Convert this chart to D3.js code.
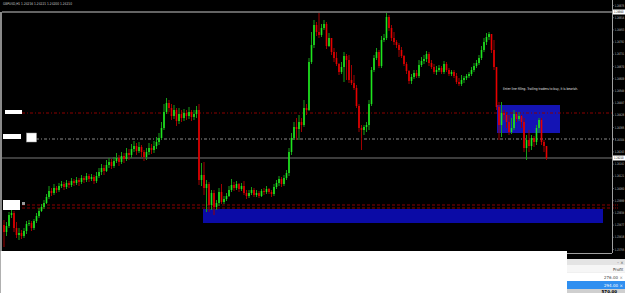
<!DOCTYPE html>
<html>
<head>
<meta charset="utf-8">
<script src="https://d3js.org/d3.v7.min.js"></script>
<style>
  body { margin: 0; background: #000; overflow: hidden; }
  text { font-family: "DejaVu Sans", sans-serif; }
  .tick text { fill: #c8c8c8; font-size: 3.4px; }
  .tick line { stroke: #9a9a9a; }
  .domain { display: none; }
</style>
</head>
<body>
<svg width="625" height="293"></svg>
<script>
// GBPUSD H1 candles, open of each bar = close of the previous one
const firstOpen = 1.23875;
const closes = [
  1.23840,1.23870,1.23925,1.23935,1.23860,1.23825,1.23835,1.23820,1.23845,1.23880,
  1.23885,1.23860,1.23895,1.23920,1.23945,1.23965,1.23985,1.24015,1.24045,1.24035,
  1.24060,1.24050,1.24070,1.24080,1.24065,1.24085,1.24075,1.24095,1.24085,1.24100,
  1.24090,1.24110,1.24100,1.24120,1.24105,1.24115,1.24095,1.24120,1.24140,1.24160,
  1.24145,1.24175,1.24190,1.24170,1.24195,1.24210,1.24190,1.24220,1.24205,1.24235,
  1.24225,1.24255,1.24270,1.24245,1.24265,1.24240,1.24215,1.24240,1.24260,1.24250,
  1.24270,1.24290,1.24310,1.24360,1.24440,1.24485,1.24460,1.24420,1.24450,1.24395,
  1.24430,1.24410,1.24435,1.24420,1.24440,1.24415,1.24430,1.24450,1.24100,1.24125,
  1.24060,1.24080,1.23975,1.24035,1.23965,1.23985,1.24040,1.23990,1.24005,1.24020,
  1.24050,1.24075,1.24060,1.24080,1.24055,1.24070,1.24035,1.24020,1.24035,1.24050,
  1.24025,1.24035,1.24020,1.24045,1.24040,1.24055,1.24040,1.24030,1.24065,1.24085,
  1.24105,1.24080,1.24110,1.24135,1.24240,1.24310,1.24365,1.24355,1.24390,1.24375,
  1.24460,1.24450,1.24690,1.24775,1.24875,1.24840,1.24825,1.24860,1.24880,1.24770,
  1.24810,1.24740,1.24710,1.24680,1.24640,1.24665,1.24720,1.24700,1.24600,1.24585,
  1.24560,1.24470,1.24360,1.24350,1.24365,1.24375,1.24480,1.24650,1.24710,1.24740,
  1.24670,1.24800,1.24810,1.24915,1.24860,1.24810,1.24790,1.24775,1.24750,1.24720,
  1.24680,1.24645,1.24595,1.24615,1.24635,1.24620,1.24675,1.24695,1.24705,1.24730,
  1.24685,1.24665,1.24640,1.24650,1.24660,1.24640,1.24680,1.24650,1.24630,1.24640,
  1.24620,1.24590,1.24580,1.24600,1.24610,1.24620,1.24630,1.24650,1.24670,1.24685,
  1.24710,1.24750,1.24790,1.24815,1.24830,1.24750,1.24665,1.24465,1.24375,1.24435,
  1.24425,1.24390,1.24340,1.24360,1.24430,1.24405,1.24420,1.24390,1.24260,1.24300,
  1.24270,1.24310,1.24290,1.24360,1.24400,1.24290,1.24270,1.24210
];
const highs = [
  1.23900,1.23890,1.23940,1.23960,1.23945,1.23890,1.23860,1.23850,1.23860,1.23895,
  1.23900,1.23895,1.23905,1.23935,1.23960,1.23980,1.24000,1.24030,1.24070,1.24060,
  1.24080,1.24070,1.24085,1.24095,1.24090,1.24100,1.24095,1.24110,1.24105,1.24115,
  1.24110,1.24125,1.24120,1.24135,1.24130,1.24130,1.24125,1.24140,1.24160,1.24180,
  1.24175,1.24200,1.24210,1.24205,1.24215,1.24235,1.24225,1.24240,1.24235,1.24260,
  1.24255,1.24280,1.24295,1.24285,1.24290,1.24275,1.24250,1.24260,1.24285,1.24280,
  1.24295,1.24315,1.24335,1.24390,1.24480,1.24510,1.24500,1.24480,1.24475,1.24460,
  1.24460,1.24450,1.24455,1.24450,1.24465,1.24450,1.24450,1.24470,1.24480,1.24185,
  1.24190,1.24100,1.24090,1.24050,1.24050,1.24000,1.24060,1.24080,1.24020,1.24035,
  1.24070,1.24105,1.24090,1.24095,1.24085,1.24085,1.24095,1.24050,1.24050,1.24065,
  1.24060,1.24050,1.24045,1.24055,1.24060,1.24070,1.24060,1.24050,1.24080,1.24100,
  1.24120,1.24115,1.24125,1.24150,1.24260,1.24335,1.24390,1.24410,1.24425,1.24410,
  1.24500,1.24480,1.24710,1.24840,1.24900,1.24890,1.24935,1.24880,1.24900,1.24890,
  1.24835,1.24800,1.24760,1.24740,1.24685,1.24690,1.24740,1.24730,1.24725,1.24675,
  1.24625,1.24575,1.24480,1.24375,1.24375,1.24390,1.24500,1.24665,1.24725,1.24760,
  1.24750,1.24820,1.24830,1.24935,1.24925,1.24875,1.24840,1.24800,1.24785,1.24765,
  1.24725,1.24690,1.24650,1.24630,1.24650,1.24650,1.24700,1.24715,1.24725,1.24745,
  1.24740,1.24700,1.24680,1.24670,1.24675,1.24670,1.24695,1.24690,1.24660,1.24650,
  1.24650,1.24635,1.24610,1.24625,1.24620,1.24630,1.24640,1.24665,1.24685,1.24700,
  1.24725,1.24770,1.24810,1.24835,1.24840,1.24825,1.24800,1.24660,1.24490,1.24490,
  1.24450,1.24440,1.24425,1.24410,1.24450,1.24440,1.24440,1.24425,1.24410,1.24325,
  1.24350,1.24325,1.24320,1.24375,1.24410,1.24410,1.24300,1.24260
];
const lows = [
  1.23765,1.23820,1.23860,1.23910,1.23840,1.23810,1.23800,1.23805,1.23810,1.23830,
  1.23870,1.23845,1.23850,1.23885,1.23910,1.23940,1.23955,1.23980,1.24005,1.24020,
  1.24025,1.24035,1.24040,1.24060,1.24050,1.24055,1.24060,1.24065,1.24070,1.24075,
  1.24070,1.24080,1.24085,1.24090,1.24090,1.24095,1.24080,1.24085,1.24110,1.24125,
  1.24125,1.24140,1.24160,1.24155,1.24160,1.24185,1.24170,1.24180,1.24185,1.24195,
  1.24200,1.24210,1.24240,1.24225,1.24235,1.24215,1.24195,1.24200,1.24225,1.24230,
  1.24235,1.24255,1.24275,1.24300,1.24350,1.24430,1.24440,1.24400,1.24405,1.24370,
  1.24380,1.24390,1.24395,1.24400,1.24405,1.24395,1.24400,1.24410,1.24075,1.24070,
  1.24025,1.23940,1.23940,1.23950,1.23925,1.23950,1.23970,1.23980,1.23980,1.23995,
  1.24015,1.24040,1.24045,1.24050,1.24040,1.24045,1.24025,1.24005,1.24010,1.24025,
  1.24015,1.24015,1.24010,1.24015,1.24025,1.24030,1.24030,1.24015,1.24020,1.24055,
  1.24070,1.24065,1.24070,1.24100,1.24120,1.24225,1.24300,1.24300,1.24300,1.24340,
  1.24365,1.24425,1.24445,1.24680,1.24760,1.24820,1.24810,1.24815,1.24850,1.24755,
  1.24765,1.24725,1.24690,1.24670,1.24625,1.24630,1.24590,1.24600,1.24585,1.24575,
  1.24550,1.24460,1.24340,1.24250,1.24325,1.24340,1.24350,1.24470,1.24640,1.24700,
  1.24660,1.24660,1.24790,1.24800,1.24845,1.24795,1.24775,1.24760,1.24715,1.24710,
  1.24670,1.24630,1.24580,1.24580,1.24605,1.24610,1.24610,1.24665,1.24680,1.24690,
  1.24670,1.24655,1.24630,1.24625,1.24640,1.24630,1.24630,1.24640,1.24620,1.24620,
  1.24610,1.24580,1.24570,1.24570,1.24585,1.24600,1.24610,1.24620,1.24640,1.24660,
  1.24675,1.24700,1.24740,1.24775,1.24800,1.24735,1.24650,1.24450,1.24300,1.24315,
  1.24400,1.24360,1.24325,1.24330,1.24350,1.24390,1.24395,1.24360,1.24240,1.24200,
  1.24240,1.24250,1.24265,1.24275,1.24335,1.24275,1.24240,1.24200
];

// price axis labels
const yTicks = [1.24975,1.24914,1.24853,1.24792,1.24731,1.24670,1.24609,1.24548,1.24487,1.24426,
  1.24365,1.24304,1.24243,1.24182,1.24121,1.24060,1.23999,1.23938,1.23877,1.23816,1.23755];

// horizontal levels
const highLine = 1.24940;
const bidPrice = 1.24210;
const entryLevel = 1.24435;
const trailLevel = 1.24305;
const stopLevels = [1.23975, 1.23960];

// rectangles: bar index from / to, price top / bottom
const zoneFrom = [79.6, 197.2];
const zoneTo = [239.6, 222.4];
const zoneTop = [1.23955, 1.24475];
const zoneBottom = [1.23885, 1.24335];

const note = 'Enter line filling. Trailing traders to buy, it is bearish.';
const title = 'GBPUSD,H1  1.24216 1.24221 1.24200 1.24210';

// terminal panel rows
const panelHead = 'Profit';
const panelRows = ['276.00', '294.00'];
const panelTotal = '570.00';

const svg = d3.select('svg');
const axisX = 612;
const plotBottom = 253;

const y = d3.scaleLinear().domain([1.25, 1.2375]).range([0, 250]);
const x = d3.scaleLinear().domain([0, closes.length - 1]).range([4, 546.5]);

const bars = closes.map((c, i) => {
  const o = i === 0 ? firstOpen : closes[i - 1];
  return { i, o, c, h: Math.max(highs[i], o, c), l: Math.min(lows[i], o, c) };
});

svg.append('rect').attr('width', 625).attr('height', 293).attr('fill', '#000');

// zones behind candles
svg.selectAll('rect.zone').data(zoneFrom).enter().append('rect')
    .attr('class', 'zone')
    .attr('x', d => x(d))
    .attr('width', (d, k) => x(zoneTo[k]) - x(d))
    .attr('y', (d, k) => y(zoneTop[k]))
    .attr('height', (d, k) => y(zoneBottom[k]) - y(zoneTop[k]))
    .attr('fill', (d, k) => k === 0 ? '#0b0ba6' : '#1414b4');

// frame lines
svg.append('line').attr('x1', 1).attr('x2', 1).attr('y1', y(highLine)).attr('y2', 251)
    .attr('stroke', '#8a8a8a').attr('stroke-width', 2);
svg.append('line').attr('x1', axisX + 0.5).attr('x2', axisX + 0.5).attr('y1', 0).attr('y2', plotBottom)
    .attr('stroke', '#a0a0a0');
svg.append('line').attr('x1', 0).attr('x2', axisX).attr('y1', plotBottom + 0.5).attr('y2', plotBottom + 0.5)
    .attr('stroke', '#a0a0a0');

// levels
svg.append('line').attr('x1', 2).attr('x2', axisX).attr('y1', y(highLine)).attr('y2', y(highLine))
    .attr('stroke', '#c8c8c8').attr('stroke-width', 1);
svg.append('line').attr('x1', 2).attr('x2', axisX).attr('y1', y(bidPrice)).attr('y2', y(bidPrice))
    .attr('stroke', '#787878').attr('stroke-width', 1);
svg.append('line').attr('x1', 22).attr('x2', axisX).attr('y1', y(entryLevel)).attr('y2', y(entryLevel))
    .attr('stroke', '#8b0000').attr('stroke-dasharray', '3,2,1,2');
svg.append('line').attr('x1', 36).attr('x2', axisX).attr('y1', y(trailLevel)).attr('y2', y(trailLevel))
    .attr('stroke', '#8c8c8c').attr('stroke-dasharray', '3,2,1,2');
svg.selectAll('line.stop').data(stopLevels).enter().append('line')
    .attr('class', 'stop')
    .attr('x1', 22).attr('x2', axisX)
    .attr('y1', d => y(d)).attr('y2', d => y(d))
    .attr('stroke', '#8b0000').attr('stroke-dasharray', '3,2');

// candles
const g = svg.append('g');
g.selectAll('line.wick').data(bars).enter().append('line')
    .attr('class', 'wick')
    .attr('x1', d => x(d.i)).attr('x2', d => x(d.i))
    .attr('y1', d => y(d.h)).attr('y2', d => y(d.l))
    .attr('stroke', d => d.c >= d.o ? '#16a016' : '#a00000')
    .attr('stroke-width', 1);
g.selectAll('rect.body').data(bars).enter().append('rect')
    .attr('class', 'body')
    .attr('x', d => x(d.i) - 0.8)
    .attr('width', 1.6)
    .attr('y', d => y(Math.max(d.o, d.c)))
    .attr('height', d => Math.max(1, Math.abs(y(d.o) - y(d.c))))
    .attr('fill', d => d.c >= d.o ? '#1ee61e' : '#e60000');

// left line tags
const tag = (x0, y0, w, h, fill, stroke) => svg.append('rect')
    .attr('x', x0).attr('y', y0).attr('width', w).attr('height', h)
    .attr('fill', fill).attr('stroke', stroke || 'none').attr('stroke-width', 0.5);
tag(5, y(entryLevel) - 3, 17, 4, '#fff');
tag(3, y(trailLevel) - 5, 18, 5, '#fff');
tag(26.5, y(trailLevel) - 6, 10, 9, '#fff', '#999');
tag(3, y(stopLevels[0]) - 5, 17, 10, '#fff');
tag(22, y(stopLevels[0]) - 3, 3, 3, '#9a9a9a');

// note text and title
svg.append('text').attr('x', 503).attr('y', 90).attr('fill', '#e0e0e0')
    .attr('textLength', 75).attr('lengthAdjust', 'spacingAndGlyphs')
    .style('font-size', '3.6px').text(note);
svg.append('text').attr('x', 3).attr('y', 4.5).attr('fill', '#c8c8c8')
    .attr('textLength', 69).attr('lengthAdjust', 'spacingAndGlyphs')
    .style('font-size', '3.8px').text(title);

// price axis
svg.append('g').attr('transform', `translate(${axisX},0)`)
    .call(d3.axisRight(y).tickValues(yTicks).tickFormat(d3.format('.5f')).tickSize(1.5).tickPadding(1.2))
    .selectAll('.tick text')
    .attr('textLength', 9.5).attr('lengthAdjust', 'spacingAndGlyphs');

// axis price boxes
[highLine, bidPrice].forEach(p => {
  svg.append('rect').attr('x', axisX + 1).attr('y', y(p) - 2.5).attr('width', 12).attr('height', 5)
      .attr('fill', '#fff');
  svg.append('text').attr('x', axisX + 2).attr('y', y(p) + 1.3).attr('fill', '#000')
      .attr('textLength', 9.5).attr('lengthAdjust', 'spacingAndGlyphs')
      .style('font-size', '3.4px').text(p.toFixed(5));
});
svg.append('line').attr('x1', axisX + 1).attr('x2', axisX + 5).attr('y1', y(trailLevel)).attr('y2', y(trailLevel))
    .attr('stroke', '#8c8c8c').attr('stroke-dasharray', '1,1');
stopLevels.forEach(p => svg.append('line').attr('x1', axisX + 1).attr('x2', axisX + 6)
    .attr('y1', y(p)).attr('y2', y(p)).attr('stroke', '#8b0000').attr('stroke-dasharray', '1,1'));

// bottom terminal panel
svg.append('rect').attr('x', 0).attr('y', 251).attr('width', 567).attr('height', 42).attr('fill', '#fff');
svg.append('line').attr('x1', 0.5).attr('x2', 0.5).attr('y1', 251).attr('y2', 293).attr('stroke', '#b0b0b0');

const px = 567, pw = 58;
svg.append('rect').attr('x', px).attr('y', 259).attr('width', pw).attr('height', 6).attr('fill', '#e4e4e4');
svg.append('text').attr('x', 617).attr('y', 263.5).attr('fill', '#555').style('font-size', '4px').text('–  ×');
svg.append('rect').attr('x', px).attr('y', 265).attr('width', pw).attr('height', 8).attr('fill', '#f6f6f6');
svg.append('line').attr('x1', px).attr('x2', 625).attr('y1', 273).attr('y2', 273).attr('stroke', '#ddd').attr('stroke-width', 0.5);
svg.append('text').attr('x', 613).attr('y', 270.5).attr('fill', '#333').style('font-size', '4px').text(panelHead);

panelRows.forEach((v, k) => {
  const ry = 273 + k * 8;
  svg.append('rect').attr('x', px).attr('y', ry).attr('width', pw).attr('height', 8)
      .attr('fill', k === 1 ? '#2f8ff0' : '#fff');
  svg.append('text').attr('x', 618).attr('y', ry + 5.5).attr('text-anchor', 'end')
      .attr('fill', k === 1 ? '#fff' : '#444').style('font-size', '4px').text(v);
  svg.append('text').attr('x', 619.5).attr('y', ry + 5.5)
      .attr('fill', k === 1 ? '#fff' : '#888').style('font-size', '4px').text('×');
});
svg.append('rect').attr('x', px).attr('y', 289).attr('width', pw).attr('height', 4).attr('fill', '#cfcfcf');
svg.append('text').attr('x', 617).attr('y', 292.5).attr('text-anchor', 'end')
    .attr('fill', '#000').style('font-size', '4px').style('font-weight', 'bold').text(panelTotal);
</script>
</body>
</html>
